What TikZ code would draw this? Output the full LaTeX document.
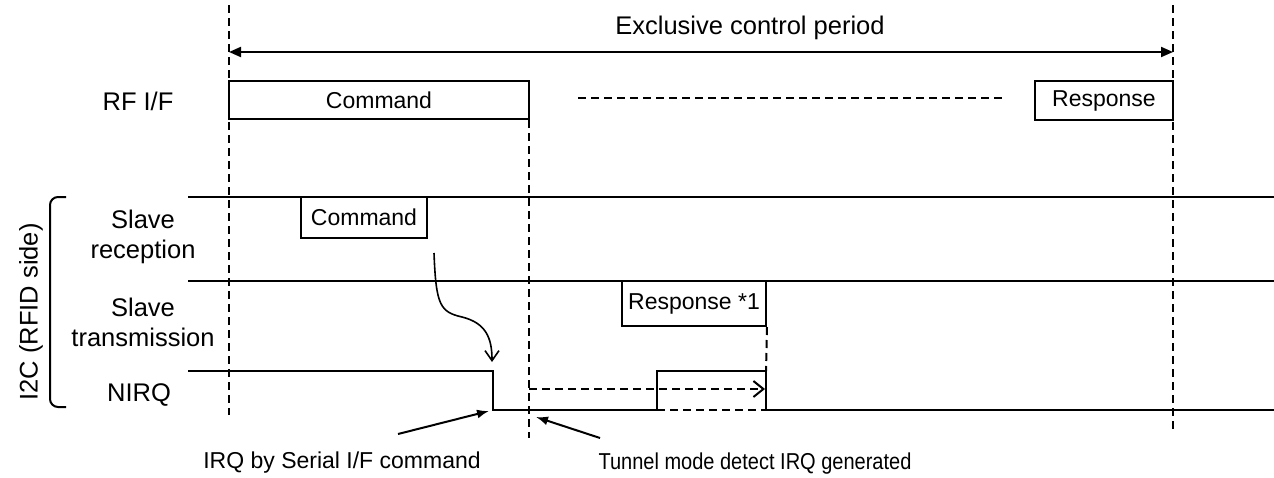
\documentclass[tikz,border=0pt]{standalone}
\usepackage{fontspec}
\setmainfont{Liberation Sans}
\usetikzlibrary{arrows.meta}

\begin{document}
\begin{tikzpicture}[x=0.5pt, y=-0.5pt,
  font=\fontsize{12.75}{15}\selectfont,
  sig/.style={line width=1pt},
  guide/.style={line width=1pt, dash pattern=on 4pt off 2.5pt},
  box/.style={draw, fill=white, line width=1pt, inner sep=0pt, font=\fontsize{11.5}{13.5}\selectfont},
  lbl/.style={inner sep=0pt, align=center},
  pointer/.style={line width=1pt, -{Latex[length=6pt,width=4.5pt]}}]
\useasboundingbox (0,0) rectangle (1274,477);
\draw[guide] (229,5) -- (229,415);
\draw[guide] (529,120) -- (529,438);
\draw[guide] (1173,5) -- (1173,432);
\node[lbl] (period) at (750,28) {Exclusive control period};
\coordinate (pstart) at (229,52);
\coordinate (pend) at (1173,52);
\draw[line width=1pt, {Triangle[length=6pt,width=5pt]}-{Triangle[length=6pt,width=5pt]}] (pstart) -- (pend);
\node[lbl] (rf) at (138,101) {RF I/F};
\node[box, minimum width=150pt, minimum height=19pt] (rfcmd) at (379,100) {Command};
\node[box, minimum width=69pt, minimum height=19.5pt] (rfresp) at (1104,100.5) {Response};
\draw[guide] (578,98) -- (1003,98);
\draw[sig] (188,197) -- (1274,197);
\draw[sig] (188,281) -- (1274,281);
\node[box, minimum width=63pt, minimum height=20.5pt] (srcmd) at (364,217.5) {Command};
\node[box, minimum width=72pt, minimum height=22.5pt] (resp1) at (694,303.5) {Response *1};
\node[lbl] (srx) at (143,237) {Slave\\reception};
\node[lbl] (stx) at (143,322) {Slave\\transmission};
\node[lbl] (nirq) at (139,395) {NIRQ};
\node[lbl, rotate=90] (i2c) at (31,312) {I2C (RFID side)};
\draw[line width=1pt, rounded corners=4pt] (66,197) -- (50,197) -- (50,407) -- (66,407);
\coordinate (fall) at (493,410);
\coordinate (rise) at (657,410);
\coordinate (back) at (766,410);
\draw[sig] (188,371) -- (493,371) -- (fall) -- (rise) -- (657,371) -- (766,371) -- (back) -- (1274,410);
\draw[guide] (rise) -- (back);
\draw[guide] (resp1.south east) -- (766,371);
\coordinate (tstart) at (529,389);
\coordinate (tend) at (765,389);
\draw[guide, -{Straight Barb[length=5pt,width=8pt]}] (tstart) -- (tend);
\coordinate (cstart) at (434,253);
\coordinate (cend) at (492,362);
\draw[line width=0.8pt, -{Straight Barb[length=5pt,width=7pt]}] (cstart) .. controls (436,305) and (440,312) .. (462,317) .. controls (486,323) and (492,338) .. (cend);
\node[lbl, font=\fontsize{11.5}{13.5}\selectfont] (irqtxt) at (342,463) {IRQ by Serial I/F command};
\coordinate (irqfrom) at (398,434);
\coordinate (irqto) at (489,411);
\draw[pointer] (irqfrom) -- (irqto);
\node[lbl, font=\fontsize{11.5}{13.5}\selectfont] (tuntxt) at (755,464) {\scalebox{0.87}[1]{Tunnel mode detect IRQ generated}};
\coordinate (tunfrom) at (600,438);
\coordinate (tunto) at (536,417);
\draw[pointer] (tunfrom) -- (tunto);
\end{tikzpicture}
\end{document}
